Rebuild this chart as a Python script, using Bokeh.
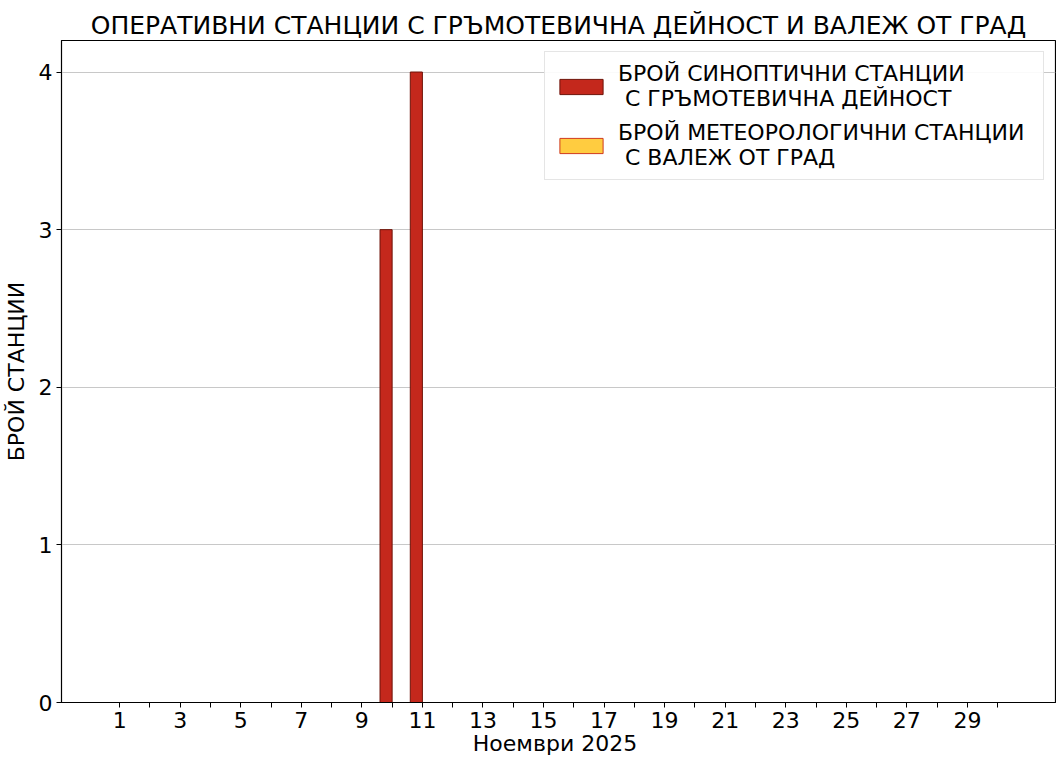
from bokeh.plotting import figure
from bokeh.models import ColumnDataSource, FixedTicker, Range1d, Legend, LegendItem
from bokeh.embed import file_html
from bokeh.resources import INLINE

days = list(range(1, 31))
thunder = [0, 0, 0, 0, 0, 0, 0, 0, 0, 3, 4, 0, 0, 0, 0, 0, 0, 0, 0, 0, 0, 0, 0, 0, 0, 0, 0, 0, 0, 0]
hail = [0] * 30
labels = ["БРОЙ СИНОПТИЧНИ СТАНЦИИ\n С ГРЪМОТЕВИЧНА ДЕЙНОСТ",
          "БРОЙ МЕТЕОРОЛОГИЧНИ СТАНЦИИ\n С ВАЛЕЖ ОТ ГРАД"]
title = "ОПЕРАТИВНИ СТАНЦИИ С ГРЪМОТЕВИЧНА ДЕЙНОСТ И ВАЛЕЖ ОТ ГРАД"
xlabel = "Ноември  2025"
ylabel = "БРОЙ СТАНЦИИ"

FONT = "DejaVu Sans"
W = 0.4

src = ColumnDataSource(dict(
    x_t=[d - W / 2 for d in days],
    x_h=[d + W / 2 for d in days],
    thunder=thunder, hail=hail))

p = figure(width=1056, height=759, output_backend="svg", toolbar_location=None,
           x_range=Range1d(-0.92, 31.91), y_range=Range1d(0, 4.2),
           min_border_left=58, min_border_right=1, min_border_bottom=57, min_border_top=40)

p.title.text = title
p.title.text_font = FONT
p.title.text_font_size = "25px"
p.title.text_font_style = "normal"
p.title.text_color = "black"
p.title.align = "center"
p.title.standoff = 2

r1 = p.vbar(x="x_t", top="thunder", width=W, source=src,
            fill_color="#C4281C", line_color="#6E1208", line_width=1)
r2 = p.vbar(x="x_h", top="hail", width=W, source=src,
            fill_color="#FFCC40", line_color="#D03A1C", line_width=1)

p.xgrid.visible = False
p.ygrid.grid_line_color = "#c8c8c8"
p.ygrid.grid_line_width = 1
p.outline_line_color = "black"
p.outline_line_width = 1.2

p.xaxis.ticker = FixedTicker(ticks=days)
p.xaxis.major_label_overrides = {d: (str(d) if d % 2 == 1 else "") for d in days}
p.xaxis.minor_tick_line_color = None
p.yaxis.ticker = FixedTicker(ticks=[0, 1, 2, 3, 4])
p.yaxis.minor_tick_line_color = None

for ax in (p.xaxis[0], p.yaxis[0]):
    ax.major_label_text_font = FONT
    ax.major_label_text_font_size = "22px"
    ax.major_label_text_color = "black"
    ax.axis_label_text_font = FONT
    ax.axis_label_text_font_size = "22px"
    ax.axis_label_text_font_style = "normal"
    ax.axis_label_text_color = "black"
    ax.major_tick_out = 5
    ax.major_tick_in = 0
    ax.major_tick_line_color = "black"
    ax.axis_line_color = "black"
    ax.major_label_standoff = 4

p.xaxis.axis_label = xlabel
p.xaxis.axis_label_standoff = 0
p.yaxis.axis_label = ylabel
p.yaxis.axis_label_standoff = 7

legend = Legend(items=[LegendItem(label=labels[0], renderers=[r1]),
                       LegendItem(label=labels[1], renderers=[r2])],
                location="top_right")
legend.label_text_font = FONT
legend.label_text_font_size = "22px"
legend.label_text_color = "black"
legend.label_text_line_height = 1.24
legend.glyph_width = 54
legend.glyph_height = 19
legend.label_standoff = 10
legend.label_width = 416
legend.padding = 9
legend.spacing = 9
legend.margin = 11
legend.border_line_color = "#cccccc"
legend.border_line_width = 1
legend.background_fill_alpha = 0.9
p.add_layout(legend)

open("out.html", "w").write(file_html(p, INLINE))
